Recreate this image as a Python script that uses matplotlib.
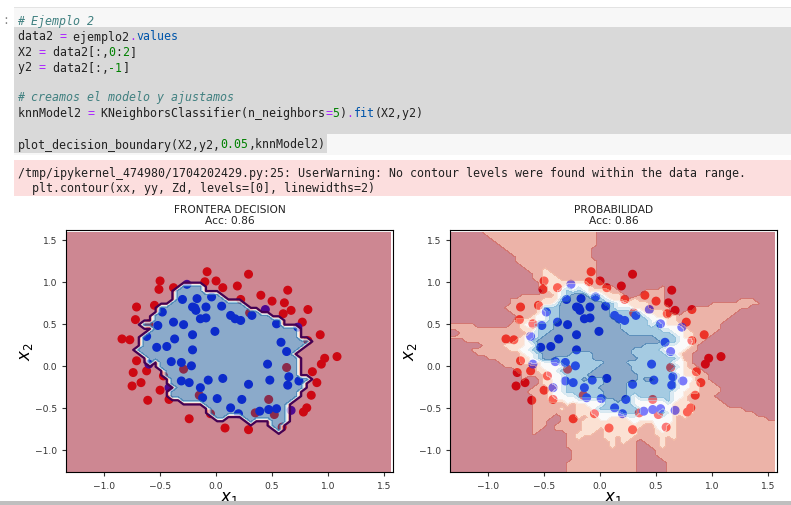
import warnings
import numpy as np
import matplotlib
matplotlib.use('Agg')
import matplotlib.pyplot as plt
from matplotlib.colors import ListedColormap
from matplotlib.patches import Rectangle

warnings.filterwarnings('ignore')

# ---- datos (clase 0 = rojo, clase 1 = azul) ----
red_x = [-0.08, 0.29, -0.50, -0.51, -0.38, -0.10, 0.00, 0.06, 0.19, 0.64,
         0.40, 0.22, 0.50, 0.61, 0.82, 0.67, 0.60, -0.71, -0.55, -0.72,
         0.77, 0.93, -0.84, -0.77, 0.82, 1.08, 0.97, 0.94, -0.71, -0.74,
         -0.62, 0.86, -0.47, -0.67, -0.75, 0.90, -0.50, -0.61, -0.42, 0.85,
         0.81, 0.78, -0.24, 0.08, 0.29, -0.05, 0.59,
         -0.29, -0.15, -0.60, 0.30, 0.63, 0.47, 0.35, 0.52]
red_y = [1.12, 1.09, 1.01, 0.91, 0.93, 1.00, 1.01, 0.93, 0.95, 0.90,
         0.84, 0.79, 0.77, 0.75, 0.67, 0.66, 0.62, 0.70, 0.72, 0.55,
         0.52, 0.37, 0.32, 0.31, 0.30, 0.11, 0.09, 0.02, 0.06, -0.08,
         -0.06, -0.07, -0.12, -0.20, -0.24, -0.20, -0.29, -0.41, -0.40, -0.35,
         -0.50, -0.55, -0.63, -0.74, -0.76, -0.57, -0.73,
         -0.04, -0.35, 0.50, 0.63, -0.02, -0.40, -0.56, -0.58]

blue_x = [-0.30, -0.17, -0.04, -0.21, -0.19, -0.18, -0.09, 0.05, -0.48, -0.14,
          -0.09, 0.13, 0.17, 0.22, 0.32, 0.44, -0.38, -0.29, -0.52, -0.01,
          -0.21, -0.62, -0.37, -0.53, -0.44, -0.21, 0.58, 0.63, -0.40, -0.31,
          -0.22, 0.46, 0.06, -0.07, -0.31, -0.24, -0.14, 0.29, 0.48, 0.65,
          0.64, 0.74, -0.12, 0.01, 0.23, 0.13, 0.39, 0.47, 0.54, -0.26,
          0.20, 0.54, 0.73, -0.60, 0.67, -0.42]
blue_y = [0.79, 0.80, 0.82, 0.70, 0.69, 0.66, 0.70, 0.71, 0.64, 0.56,
          0.57, 0.60, 0.56, 0.54, 0.60, 0.67, 0.52, 0.49, 0.48, 0.41,
          0.37, 0.35, 0.32, 0.22, 0.23, 0.19, 0.28, 0.17, 0.05, 0.04,
          0.00, 0.02, -0.15, -0.17, -0.18, -0.20, -0.26, -0.22, -0.17, -0.13,
          -0.23, -0.18, -0.38, -0.39, -0.40, -0.50, -0.54, -0.52, -0.51, 0.97,
          -0.57, 0.50, 0.46, 0.02, -0.53, -0.26]

titles = ['FRONTERA DECISION\nAcc: 0.86', 'PROBABILIDAD\nAcc: 0.86']

# celda de codigo: (texto, color, cursiva)
C_TXT, C_OP, C_NUM, C_COM, C_PROP = '#212121', '#aa22ff', '#008000', '#408080', '#0055aa'
code_lines = [
    [('# Ejemplo 2', C_COM, True)],
    [('data2 ', C_TXT, False), ('=', C_OP, False), (' ejemplo2', C_TXT, False),
     ('.', C_OP, False), ('values', C_PROP, False)],
    [('X2 ', C_TXT, False), ('=', C_OP, False), (' data2[:,', C_TXT, False),
     ('0', C_NUM, False), (':', C_TXT, False), ('2', C_NUM, False), (']', C_TXT, False)],
    [('y2 ', C_TXT, False), ('=', C_OP, False), (' data2[:,', C_TXT, False),
     ('-1', C_NUM, False), (']', C_TXT, False)],
    [],
    [('# creamos el modelo y ajustamos', C_COM, True)],
    [('knnModel2 ', C_TXT, False), ('=', C_OP, False),
     (' KNeighborsClassifier(n_neighbors', C_TXT, False), ('=', C_OP, False),
     ('5', C_NUM, False), (')', C_TXT, False), ('.', C_OP, False),
     ('fit', C_PROP, False), ('(X2,y2)', C_TXT, False)],
    [],
    [('plot_decision_boundary(X2,y2,', C_TXT, False), ('0.05', C_NUM, False),
     (',knnModel2)', C_TXT, False)],
]
warn_lines = ['/tmp/ipykernel_474980/1704202429.py:25: UserWarning: No contour levels were found within the data range.',
              '  plt.contour(xx, yy, Zd, levels=[0], linewidths=2)']

# ---- modelo KNN (k=5) ----
X = np.column_stack([np.r_[red_x, blue_x], np.r_[red_y, blue_y]])
yv = np.r_[np.zeros(len(red_x)), np.ones(len(blue_x))]
h = 0.05
x_min, x_max = X[:, 0].min() - .5, X[:, 0].max() + .5
y_min, y_max = X[:, 1].min() - .5, X[:, 1].max() + .5
xx, yy = np.meshgrid(np.arange(x_min, x_max, h), np.arange(y_min, y_max, h))
P = np.c_[xx.ravel(), yy.ravel()]
d = ((P[:, None, :] - X[None, :, :]) ** 2).sum(-1)
nn = np.argsort(d, axis=1)[:, :5]
Z = yv[nn].mean(1).reshape(xx.shape)
Zd = (Z > 0.5).astype(float)

# ---- figura ----
W, H = 791, 506
fig = plt.figure(figsize=(W / 100, H / 100), dpi=100)


def rect(x0, y0, x1, y1, color, z=-1):
    fig.add_artist(Rectangle((x0 / W, 1 - y1 / H), (x1 - x0) / W, (y1 - y0) / H,
                             transform=fig.transFigure, facecolor=color,
                             edgecolor='none', zorder=z))


rect(14, 8, W, 156, '#f7f7f7')
rect(14, 8, W, 9, '#e3e3e3')
rect(14, 28, W, 135, '#d9d9d9')
rect(14, 135, 327, 154, '#d9d9d9')
rect(14, 161, W, 197, '#fcdede')
fig.text(2 / W, 1 - 21 / H, ':', fontsize=8.4, color='#888888',
         family='DejaVu Sans Mono', va='center')

CW = 7.0  # ancho de caracter en px
FS = 8.37
line_y = [21.5, 37, 52.5, 68, 83.5, 98, 113.5, 129, 145]
for ly, toks in zip(line_y, code_lines):
    col = 0
    for txt, color, ital in toks:
        fig.text((17.5 + col * CW) / W, 1 - ly / H, txt, fontsize=FS, color=color,
                 family='DejaVu Sans Mono', style='italic' if ital else 'normal',
                 va='center', ha='left')
        col += len(txt)
for ly, txt in zip([173, 188.5], warn_lines):
    fig.text(17.5 / W, 1 - ly / H, txt, fontsize=FS, color='#212121',
             family='DejaVu Sans Mono', va='center', ha='left')

cm_bright = ListedColormap(['#FF0000', '#0000FF'])
ax_left = [66, 450]
for i, (x0, Zp) in enumerate(zip(ax_left, [Zd, Z])):
    ax = fig.add_axes([x0 / W, (H - 472.7) / H, 327 / W, 242 / H])
    ax.scatter(X[:, 0], X[:, 1], c=yv, cmap=cm_bright, s=30)
    ax.contourf(xx, yy, Zp, cmap=plt.cm.RdBu, alpha=.5)
    if i == 0:
        ax.contour(xx, yy, Zp, levels=[0], linewidths=1.6)
    ax.set_xlim(x_min, x_max)
    ax.set_ylim(y_min, y_max)
    ax.set_xticks([-1.0, -0.5, 0.0, 0.5, 1.0, 1.5])
    ax.set_yticks([-1.0, -0.5, 0.0, 0.5, 1.0, 1.5])
    ax.tick_params(labelsize=6.6, length=3, colors='#333333')
    ax.set_title(titles[i], fontsize=7.7, pad=5, color='#222222', linespacing=1.15)
    ax.set_xlabel('$x_1$', fontsize=12, labelpad=-1)
    ax.set_ylabel('$x_2$', fontsize=12, labelpad=0)

rect(0, 502, W, H, '#bfbfbf', z=5)

fig.savefig('out.png', dpi=100)
